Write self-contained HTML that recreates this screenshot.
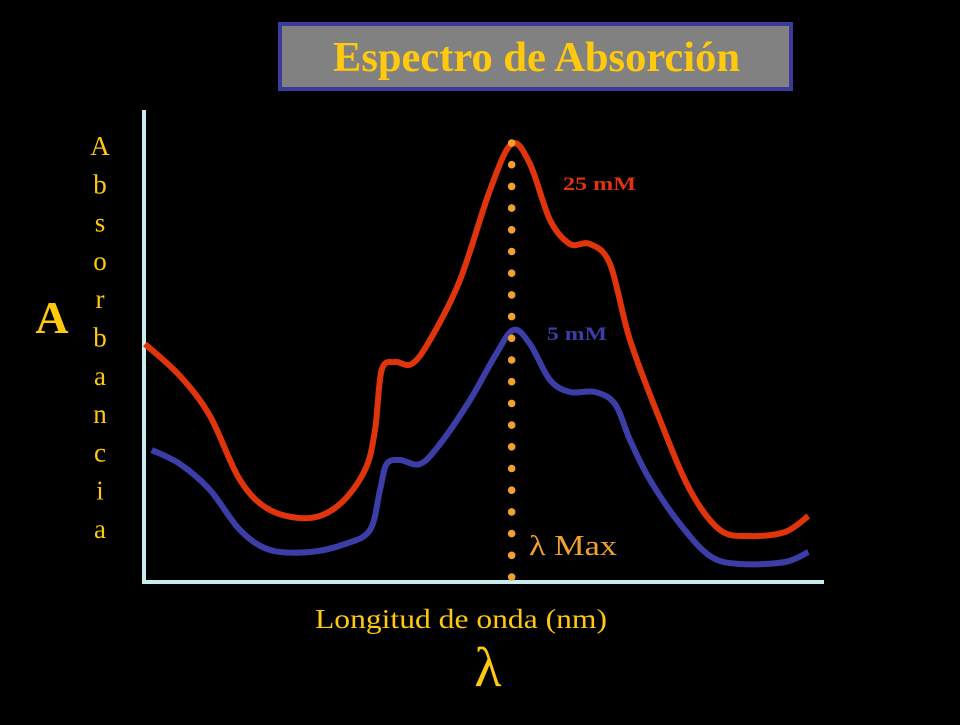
<!DOCTYPE html>
<html><head><meta charset="utf-8"><style>
body{margin:0;background:#000;width:960px;height:720px;overflow:hidden}
svg text{font-family:"Liberation Serif",serif}
</style></head><body>
<svg id="chart" width="960" height="720" viewBox="0 0 960 720">
<rect width="960" height="720" fill="#000"/>
<rect x="280" y="24" width="511" height="65" fill="#818181" stroke="#3b3b9c" stroke-width="4"/>
<text x="333" y="71" textLength="407" lengthAdjust="spacingAndGlyphs" font-size="42" font-weight="bold" fill="#ffc90e">Espectro de Absorción</text>
<text x="52" y="333" text-anchor="middle" font-size="46" font-weight="bold" fill="#ffc90e">A</text>
<g id="ylabel" fill="#ffc90e" font-size="27" text-anchor="middle"></g>
<line x1="144" y1="110" x2="144" y2="583" stroke="#c9ecee" stroke-width="4"/>
<line x1="142" y1="582" x2="824" y2="582" stroke="#c9ecee" stroke-width="4"/>
<g id="marks"></g>
<text x="563" y="190" textLength="73" lengthAdjust="spacingAndGlyphs" font-size="19" font-weight="bold" fill="#e0340c">25 mM</text>
<text x="547" y="340" textLength="60" lengthAdjust="spacingAndGlyphs" font-size="19" font-weight="bold" fill="#3d3da8">5 mM</text>
<text x="529" y="555" textLength="88" lengthAdjust="spacingAndGlyphs" font-size="28" fill="#f2a12e">λ Max</text>
<text x="315" y="628" textLength="292" lengthAdjust="spacingAndGlyphs" font-size="27" fill="#ffc90e">Longitud de onda (nm)</text>
<text x="488" y="686" text-anchor="middle" font-size="56" fill="#ffc90e">λ</text>
</svg>
<script>
const redNm=[200,221,239,257,275,299,317,332,338,342,350,360,371,389,407,420,431,443,455,467,479,491,509,527,545,563,584,598];
const redAbs=[0.59,0.51,0.41,0.25,0.175,0.155,0.19,0.275,0.375,0.525,0.545,0.54,0.60,0.75,0.975,1.09,1.04,0.90,0.84,0.84,0.79,0.60,0.40,0.225,0.125,0.11,0.12,0.16];
const blueNm=[204,221,239,257,275,299,320,335,341,345,353,365,377,395,410,421,431,443,455,470,482,491,503,521,539,557,584,598];
const blueAbs=[0.325,0.29,0.225,0.125,0.075,0.07,0.09,0.125,0.225,0.29,0.30,0.29,0.34,0.45,0.56,0.625,0.59,0.50,0.47,0.47,0.44,0.35,0.25,0.14,0.06,0.04,0.045,0.07];
const lambdaMax=420;
const xS=nm=>145+(nm-200)/0.6;
const yS=a=>580-a*400;
const NS="http://www.w3.org/2000/svg";
const marks=document.getElementById('marks');
function pathFor(xs,ys){
  const p=xs.map((x,i)=>[xS(x),yS(ys[i])]);
  let d=`M${p[0][0]},${p[0][1]}`;
  for(let i=0;i<p.length-1;i++){
    const p0=p[Math.max(0,i-1)],p1=p[i],p2=p[i+1],p3=p[Math.min(p.length-1,i+2)];
    const c1=[p1[0]+(p2[0]-p0[0])/6,p1[1]+(p2[1]-p0[1])/6];
    const c2=[p2[0]-(p3[0]-p1[0])/6,p2[1]-(p3[1]-p1[1])/6];
    d+=` C${c1[0]},${c1[1]} ${c2[0]},${c2[1]} ${p2[0]},${p2[1]}`;
  }
  return d;
}
const blue=document.createElementNS(NS,'path');
blue.setAttribute('d',pathFor(blueNm,blueAbs));
blue.setAttribute('fill','none');blue.setAttribute('stroke','#3d3da8');blue.setAttribute('stroke-width','6');


marks.appendChild(blue);
const red=document.createElementNS(NS,'path');
red.setAttribute('d',pathFor(redNm,redAbs));
red.setAttribute('fill','none');red.setAttribute('stroke','#e0340c');red.setAttribute('stroke-width','6');


marks.appendChild(red);
const lx=xS(lambdaMax);
for(let y=143;y<=578;y+=21.7){
  const c=document.createElementNS(NS,'circle');
  c.setAttribute('cx',lx);c.setAttribute('cy',y);c.setAttribute('r','3.8');c.setAttribute('fill','#f2a12e');
  
  
  marks.appendChild(c);
}
const yl=document.getElementById('ylabel');
"Absorbancia".split('').forEach((ch,i)=>{
  const t=document.createElementNS(NS,'text');
  t.setAttribute('x','100');t.setAttribute('y',155+i*38.3);t.textContent=ch;
  
  
  yl.appendChild(t);
});
</script>
</body></html>
